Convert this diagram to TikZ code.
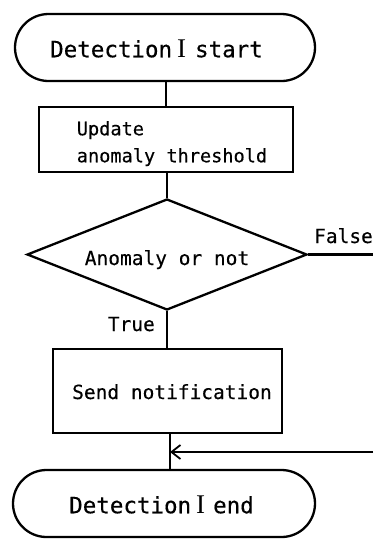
\documentclass[tikz,border=0pt]{standalone}
\usepackage{fontspec}
\newfontfamily\flowmono[FakeBold=0.35]{DejaVu Sans Mono}
\newfontfamily\flowserif{Liberation Serif}
\usetikzlibrary{shapes.geometric,shapes.misc,arrows.meta}
% serif numeral "I" set larger than the surrounding mono text
\newcommand\bigserifone{{\fontsize{27}{27}\selectfont\flowserif I}}

\begin{document}
\begin{tikzpicture}[x=1pt,y=-1pt,line width=2.3pt,
  terminal/.style={draw,rounded rectangle,minimum height=67pt,inner sep=0pt,
    font=\flowmono\fontsize{22.5}{22.5}\selectfont,text height=19.5pt,text depth=0pt},
  process/.style={draw,rectangle,inner sep=0pt},
  decision/.style={draw,diamond,aspect=2.52,inner sep=0pt,
    minimum width=280pt,minimum height=111pt,
    font=\flowmono\fontsize{19.5}{19.5}\selectfont,text height=21pt,text depth=0pt},
  branchlabel/.style={font=\flowmono\fontsize{19.5}{19.5}\selectfont,inner sep=0pt},
  link/.style={draw},
  arrowlink/.style={draw,line width=1.8pt,-{Straight Barb[length=9pt,width=14pt]}}]

\useasboundingbox (0,0) rectangle (373,539);

% shapes
\node[terminal,minimum width=300pt] (start) at (165,47.5)
  {Detection\kern5pt\bigserifone\kern9pt start\kern17pt};
\node[process,minimum width=254pt,minimum height=65pt,align=left,
  font=\flowmono\fontsize{18.6}{27}\selectfont] (upd) at (166,139.5)
  {\kern12pt\rule{0pt}{22.4pt}Update\\\kern12pt anomaly threshold};
\node[decision] (dia) at (167,254.5) {Anomaly or not};
\node[process,minimum width=229pt,minimum height=84pt,
  font=\flowmono\fontsize{19.5}{19.5}\selectfont,text height=16pt,text depth=0pt]
  (send) at (167.5,391) {\kern9pt Send notification};
\node[terminal,minimum width=302pt] (end) at (164,503.5)
  {Detection\kern5pt\bigserifone\kern8pt end\kern5pt};

% branch labels
\node[branchlabel,anchor=base east] (lfalse) at (374,243) {False};
\node[branchlabel,anchor=base east] (ltrue) at (156,331) {True};

% helper points
\coordinate (edge) at (373,0);
\coordinate (join) at (170,452);
\coordinate (fout) at (dia.east -| edge);
\coordinate (rin) at (join -| edge);

% connectors
\path[link] (upd.north |- start.south) -- (upd.north);
\path[link] (dia.north |- upd.south) -- (dia.north);
\path[link] (dia.south) -- (dia.south |- send.north);
\path[link] (send.south -| join) -- (end.north -| join);
\path[link] (dia.east) -- (fout);
\path[arrowlink] (rin) -- (join);
\end{tikzpicture}
\end{document}
